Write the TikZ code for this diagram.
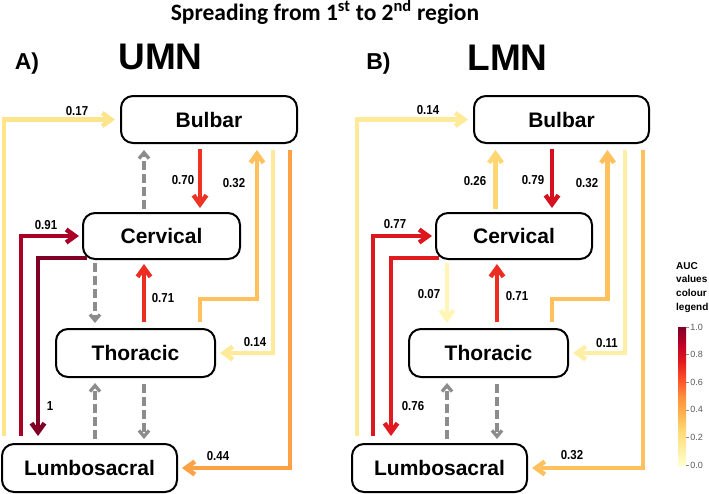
\documentclass[tikz,border=0pt]{standalone}
\usepackage{fontspec}
\setmainfont{Liberation Sans}
\newfontfamily\titlefont{Carlito}
\newfontfamily\narrowfont{Liberation Sans}[FakeStretch=0.88]
\usetikzlibrary{arrows.meta}

% AUC colours (YlOrRd)
\definecolor{v007}{HTML}{FFF6B6}
\definecolor{v011}{HTML}{FFEFA4}
\definecolor{v014}{HTML}{FFEA9A}
\definecolor{v017}{HTML}{FEE58C}
\definecolor{v026}{HTML}{FED673}
\definecolor{v032}{HTML}{FEC15E}
\definecolor{v044}{HTML}{FEA044}
\definecolor{v070}{HTML}{EE3223}
\definecolor{v071}{HTML}{EC2E22}
\definecolor{v076}{HTML}{E01A1E}
\definecolor{v077}{HTML}{DD171E}
\definecolor{v079}{HTML}{D7101F}
\definecolor{v091}{HTML}{AA0026}
\definecolor{v100}{HTML}{800026}
\definecolor{greyline}{HTML}{8C8C8C}
\definecolor{p0}{HTML}{FFFFCC}
\definecolor{p1}{HTML}{FFEDA0}
\definecolor{p2}{HTML}{FED976}
\definecolor{p3}{HTML}{FEB24C}
\definecolor{p4}{HTML}{FD8D3C}
\definecolor{p5}{HTML}{FC4E2A}
\definecolor{p6}{HTML}{E31A1C}
\definecolor{p7}{HTML}{BD0026}
\definecolor{p8}{HTML}{800026}

\pgfdeclareverticalshading{aucbar}{100bp}{color(0bp)=(p0); color(25bp)=(p0);
  color(31.25bp)=(p1); color(37.5bp)=(p2); color(43.75bp)=(p3); color(50bp)=(p4);
  color(56.25bp)=(p5); color(62.5bp)=(p6); color(68.75bp)=(p7); color(75bp)=(p8);
  color(100bp)=(p8)}

\tikzset{
  region/.style={draw, line width=2pt, rounded corners=12pt, inner sep=0pt,
    font=\bfseries\fontsize{21}{24}\selectfont},
  link/.style={line width=4.5pt, -{Straight Barb[length=9pt,width=13pt]}},
  dashlink/.style={greyline, line width=3.3pt, dash pattern=on 9pt off 4pt,
    -{Straight Barb[length=6pt,width=10pt]}},
  lab/.style={inner sep=0pt, font=\narrowfont\bfseries\fontsize{13}{14}\selectfont},
}

\begin{document}
\begin{tikzpicture}[x=1pt,y=-1pt]
    \useasboundingbox (0,0) rectangle (709,493);

    \node (title) at (325,12) {\titlefont\bfseries\fontsize{23.5}{25}\selectfont
      Spreading from 1\textsuperscript{st} to 2\textsuperscript{nd} region};
    \node[font=\bfseries\fontsize{23}{25}\selectfont] (panA) at (27,64) {A)};
    \node[font=\bfseries\fontsize{37}{40}\selectfont] (umn) at (160.5,57) {UMN};
    \node[font=\bfseries\fontsize{23}{25}\selectfont] (panB) at (378.5,64) {B)};
    \node[font=\bfseries\fontsize{37}{40}\selectfont] (lmn) at (507.5,58) {LMN};

    % A) UMN
    \node[region, minimum width=176pt, minimum height=47pt] (bulA) at (209,119.5) {Bulbar};
    \node[region, minimum width=157pt, minimum height=46pt] (cerA) at (161.5,236) {Cervical};
    \node[region, minimum width=159pt, minimum height=48pt] (thoA) at (135.5,353) {Thoracic};
    \node[region, minimum width=175pt, minimum height=48pt] (lumA) at (89.5,468) {Lumbosacral};

    \draw[link, v017, shorten >=5pt] ([xshift=3pt,yshift=7pt]lumA.north west) |- (bulA.west);
    \draw[link, v070] ([xshift=-9pt,yshift=-5pt]bulA.south) -- ([xshift=38.5pt,yshift=4pt]cerA.north);
    \draw[link, v032] ([xshift=64.5pt,yshift=6pt]thoA.north) -- ++(0,-23) -| ([xshift=48pt,yshift=-6pt]bulA.south);
    \draw[link, v014, shorten >=4pt] ([xshift=64pt,yshift=-6pt]bulA.south) |- (thoA.east);
    \draw[link, v044, shorten >=4pt] ([xshift=81pt,yshift=-6pt]bulA.south) |- (lumA.east);
    \draw[link, v091, shorten >=3pt] ([xshift=20pt,yshift=7pt]lumA.north west) |- (cerA.west);
    \draw[link, v100] ([xshift=5pt,yshift=2pt]cerA.south west) -| ([xshift=37pt,yshift=7pt]lumA.north west);
    \draw[link, v071] ([xshift=8.5pt,yshift=6pt]thoA.north) -- ([xshift=-17.5pt,yshift=-4pt]cerA.south);
    \draw[dashlink] ([xshift=-17.5pt,yshift=3pt]cerA.north) -- ([xshift=-65pt,yshift=-6pt]bulA.south);
    \draw[dashlink] ([xshift=-66.5pt,yshift=-3pt]cerA.south) -- ([xshift=-40.5pt,yshift=5pt]thoA.north);
    \draw[dashlink] ([xshift=5.5pt,yshift=4pt]lumA.north) -- ([xshift=-40.5pt,yshift=-5pt]thoA.south);
    \draw[dashlink] ([xshift=8.5pt,yshift=-6pt]thoA.south) -- ([xshift=54.5pt,yshift=4pt]lumA.north);

    \node[lab] (a017) at (77,111) {0.17};
    \node[lab] (a070) at (183,180) {0.70};
    \node[lab] (a032) at (234,183) {0.32};
    \node[lab] (a091) at (46,225) {0.91};
    \node[lab] (a071) at (163,298) {0.71};
    \node[lab] (a014) at (255,342) {0.14};
    \node[lab] (a100) at (50,406) {1};
    \node[lab] (a044) at (218,456) {0.44};

    % B) LMN
    \node[region, minimum width=175pt, minimum height=47pt] (bulB) at (561.5,119.5) {Bulbar};
    \node[region, minimum width=156pt, minimum height=46pt] (cerB) at (514,236) {Cervical};
    \node[region, minimum width=159pt, minimum height=48pt] (thoB) at (488.5,353) {Thoracic};
    \node[region, minimum width=175pt, minimum height=48pt] (lumB) at (439.5,468) {Lumbosacral};

    \draw[link, v014, shorten >=5pt] ([xshift=6pt,yshift=7pt]lumB.north west) |- (bulB.west);
    \draw[link, v026] ([xshift=-18.5pt,yshift=3pt]cerB.north) -- ([xshift=-66pt,yshift=-6pt]bulB.south);
    \draw[link, v079] ([xshift=-9.5pt,yshift=-5pt]bulB.south) -- ([xshift=38pt,yshift=4pt]cerB.north);
    \draw[link, v032] ([xshift=63.5pt,yshift=6pt]thoB.north) -- ++(0,-23) -| ([xshift=46pt,yshift=-6pt]bulB.south);
    \draw[link, v011, shorten >=4pt] ([xshift=63.5pt,yshift=-6pt]bulB.south) |- (thoB.east);
    \draw[link, v032, shorten >=4pt] ([xshift=81.5pt,yshift=-6pt]bulB.south) |- (lumB.east);
    \draw[link, v077, shorten >=3pt] ([xshift=22pt,yshift=7pt]lumB.north west) |- (cerB.west);
    \draw[link, v076] ([xshift=4pt,yshift=2pt]cerB.south west) -| ([xshift=40pt,yshift=7pt]lumB.north west);
    \draw[link, v007] ([xshift=-67pt,yshift=-3pt]cerB.south) -- ([xshift=-41.5pt,yshift=5pt]thoB.north);
    \draw[link, v071] ([xshift=8.5pt,yshift=6pt]thoB.north) -- ([xshift=-17pt,yshift=-4pt]cerB.south);
    \draw[dashlink] ([xshift=7.5pt,yshift=4pt]lumB.north) -- ([xshift=-41.5pt,yshift=-5pt]thoB.south);
    \draw[dashlink] ([xshift=8.5pt,yshift=-6pt]thoB.south) -- ([xshift=57.5pt,yshift=4pt]lumB.north);

    \node[lab] (b014) at (428,110) {0.14};
    \node[lab] (b026) at (475,181) {0.26};
    \node[lab] (b079) at (533,180) {0.79};
    \node[lab] (b032) at (587,183) {0.32};
    \node[lab] (b077) at (395,224) {0.77};
    \node[lab] (b007) at (429,294) {0.07};
    \node[lab] (b071) at (517,296) {0.71};
    \node[lab] (b011) at (607,343) {0.11};
    \node[lab] (b076) at (413,406) {0.76};
    \node[lab] (b032b) at (572,455) {0.32};

    % colour legend
    \node[anchor=north west, align=left, inner sep=0pt,
      font=\bfseries\fontsize{10}{13.8}\selectfont] (legtxt) at (676,262) {AUC\\values\\colour\\legend};
    \shade[shading=aucbar] (678,327) rectangle (686,465);
    \foreach \v/\y [count=\i] in {0.0/465,0.2/437.4,0.4/409.8,0.6/382.2,0.8/354.6,1.0/327}
      \draw[greyline, line width=0.5pt] (686,\y) -- (689,\y)
        node[right=1pt, inner sep=0pt, text=black!65, font=\fontsize{9}{10}\selectfont] (tick\i) {\v};
\end{tikzpicture}
\end{document}
